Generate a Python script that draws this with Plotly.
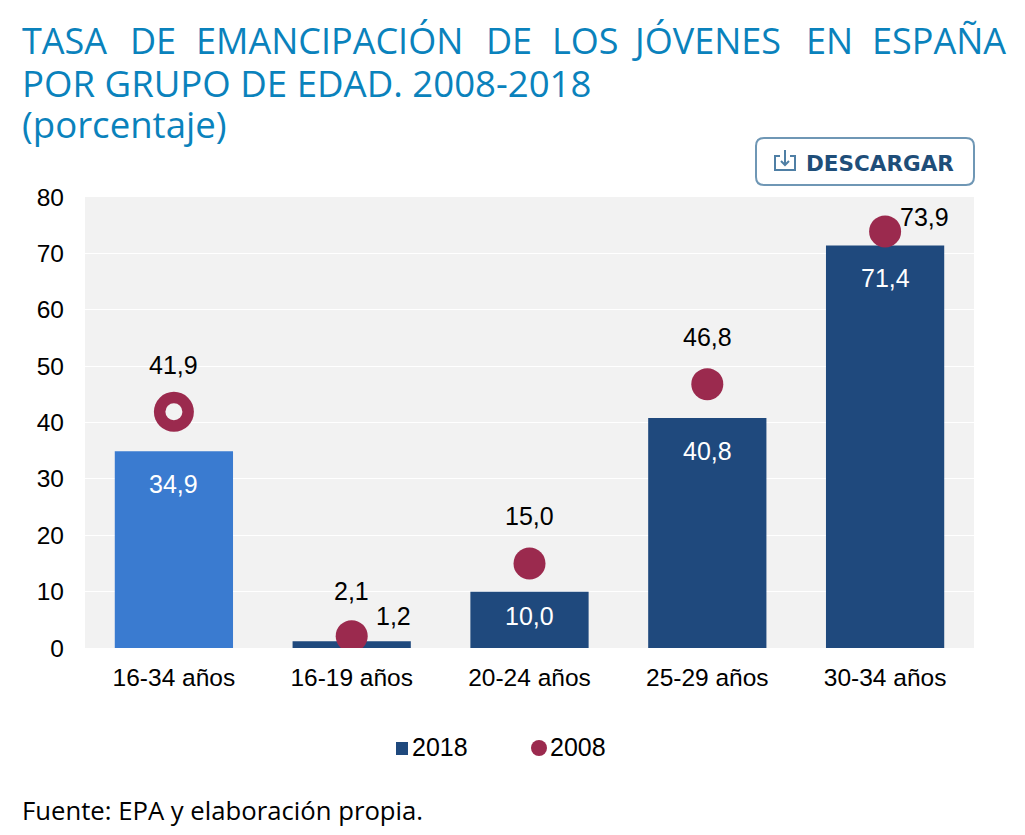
import plotly.graph_objects as go

categories = ["16-34 años", "16-19 años", "20-24 años", "25-29 años", "30-34 años"]
values_2018 = [34.9, 1.2, 10.0, 40.8, 71.4]
values_2008 = [41.9, 2.1, 15.0, 46.8, 73.9]
labels_2018 = ["34,9", "1,2", "10,0", "40,8", "71,4"]
labels_2008 = ["41,9", "2,1", "15,0", "46,8", "73,9"]
bar_colors = ["#3A7BD0", "#1F497D", "#1F497D", "#1F497D", "#1F497D"]
y_ticks = [0, 10, 20, 30, 40, 50, 60, 70, 80]
FONT = "Liberation Sans"
TITLE_FONT = "Open Sans"
BLUE = "#0A82BC"
DARK = "#1F497D"
WINE = "#9B2A4E"

# page pixels -> paper coordinates (page is offset by the 8px body margin)
L, R, T, B = 85, 974, 197, 648
def px(x):
    return (x - L) / (R - L)
def py(y):
    return (B - y) / (B - T)

fig = go.Figure()
fig.add_bar(x=categories, y=values_2018, name="2018", marker=dict(color=bar_colors, line_width=0),
            width=0.665, showlegend=False)
fig.add_scatter(x=categories[1:], y=values_2008[1:], mode="markers", name="2008", showlegend=False,
                marker=dict(color=WINE, size=32))
fig.add_scatter(x=categories[:1], y=values_2008[:1], mode="markers", showlegend=False,
                marker=dict(color=WINE, size=40))
fig.add_scatter(x=categories[:1], y=values_2008[:1], mode="markers", showlegend=False,
                marker=dict(color="#F2F2F2", size=17))

shifts_2018 = [(0, -33), (42, 25), (0, -24), (0, -33), (0, -33)]
colors_2018 = ["#FFFFFF", "#000000", "#FFFFFF", "#FFFFFF", "#FFFFFF"]
for c, v, t, (dx, dy), col in zip(categories, values_2018, labels_2018, shifts_2018, colors_2018):
    fig.add_annotation(x=c, y=v, text=t, showarrow=False, xshift=dx, yshift=dy,
                       xanchor="center", yanchor="middle",
                       font=dict(size=25, color=col, family=FONT))
shifts_2008 = [(0, 47), (0, 45), (0, 47), (0, 47), (39, 14)]
for c, v, t, (dx, dy) in zip(categories, values_2008, labels_2008, shifts_2008):
    fig.add_annotation(x=c, y=v, text=t, showarrow=False, xshift=dx, yshift=dy,
                       xanchor="center", yanchor="middle",
                       font=dict(size=25, color="#000000", family=FONT))

def text(x, y, s, size, color, family, anchor="left"):
    # left-anchored annotations carry about 2px of inner padding
    x_adj = x - 2 if anchor == "left" else x
    fig.add_annotation(xref="paper", yref="paper", x=px(x_adj), y=py(y), text=s, showarrow=False,
                       xanchor=anchor, yanchor="middle", font=dict(size=size, color=color, family=family))

# legend
text(412, 747, "2018", 25, "#000", FONT)
text(550, 747, "2008", 25, "#000", FONT)
fig.add_shape(type="rect", xref="paper", yref="paper", x0=px(396), x1=px(408), y0=py(755), y1=py(742),
              fillcolor=DARK, line_width=0)
fig.add_shape(type="circle", xref="paper", yref="paper", x0=px(531), x1=px(547), y0=py(756), y1=py(740),
              fillcolor=WINE, line_width=0)

# title
title_words = ["TASA", "DE", "EMANCIPACIÓN", "DE", "LOS", "JÓVENES", "EN", "ESPAÑA"]
title_x = [22, 130, 196, 486, 552, 632, 806, 872]
for w, x in zip(title_words, title_x):
    text(x, 40, w, 36, BLUE, TITLE_FONT)
text(22, 83, "POR GRUPO DE EDAD. 2008-2018", 36.6, BLUE, TITLE_FONT)
text(22, 124, "(porcentaje)", 36.6, BLUE, TITLE_FONT)

text(22, 810, "Fuente: EPA y elaboración propia.", 25.7, "#000", TITLE_FONT)

# download button
x0, x1, y0, y1, r = px(756), px(974), py(185), py(138), 8
rx, ry = r / (R - L), r / (B - T)
fig.add_shape(type="path", xref="paper", yref="paper", fillcolor="#FFFFFF", line=dict(color="#6F97B5", width=2),
              path=(f"M {x0+rx} {y1} L {x1-rx} {y1} Q {x1} {y1} {x1} {y1-ry} L {x1} {y0+ry} Q {x1} {y0} {x1-rx} {y0} "
                    f"L {x0+rx} {y0} Q {x0} {y0} {x0} {y0+ry} L {x0} {y1-ry} Q {x0} {y1} {x0+rx} {y1} Z"))
fig.add_shape(type="path", xref="paper", yref="paper", line=dict(color="#4F7FA5", width=2),
              path=(f"M {px(780)} {py(156)} L {px(775)} {py(156)} L {px(775)} {py(170)} L {px(795)} {py(170)} "
                    f"L {px(795)} {py(156)} L {px(790)} {py(156)}"))
fig.add_shape(type="path", xref="paper", yref="paper", line=dict(color="#4F7FA5", width=2),
              path=f"M {px(785)} {py(150)} L {px(785)} {py(165)} M {px(781)} {py(161)} L {px(785)} {py(165)} L {px(789)} {py(161)}")
text(880, 164, "<b>DESCARGAR</b>", 21.5, "#1F4E79", "DejaVu Sans", anchor="center")

fig.update_layout(
    width=1017, height=827, autosize=False, paper_bgcolor="#FFFFFF", plot_bgcolor="#F2F2F2",
    margin=dict(l=77, r=51, t=189, b=187), bargap=0.335, showlegend=False,
    xaxis=dict(type="category", showgrid=False, ticks="", zeroline=False, showline=False,
               tickfont=dict(size=24.5, color="#000", family=FONT), ticklen=0, ticklabelstandoff=12),
    yaxis=dict(range=[0, 80], tickvals=y_ticks, gridcolor="#FFFFFF", gridwidth=1, zeroline=False,
               tickfont=dict(size=24.5, color="#000", family=FONT), ticklen=0, showline=False,
               ticklabelstandoff=20),
)
fig.write_html("out.html")
